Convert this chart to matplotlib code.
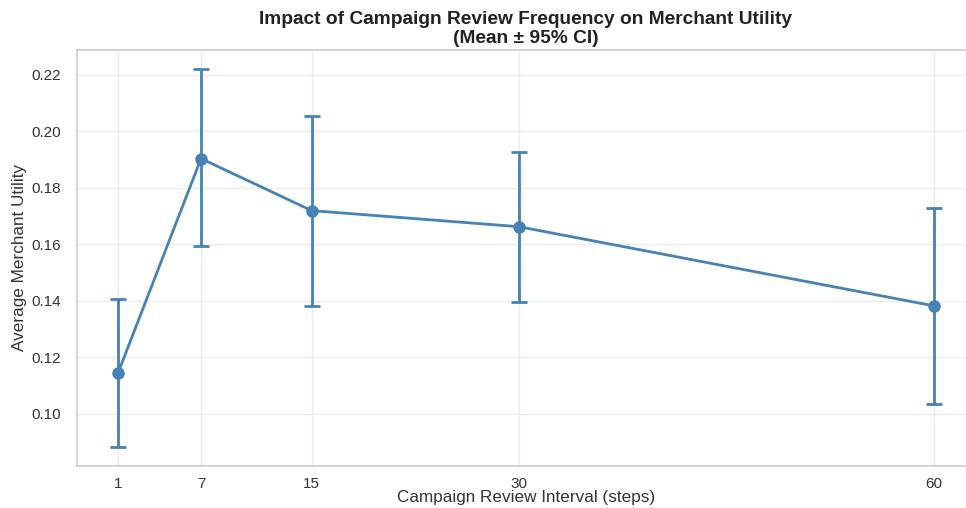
import matplotlib
matplotlib.use("Agg")
import matplotlib.pyplot as plt
import seaborn as sns

# Review interval (steps) and merchant utility summary
intervals = [1, 7, 15, 30, 60]
mean_utility = [0.1145, 0.1903, 0.1719, 0.1662, 0.1382]
ci_low = [0.0883, 0.1595, 0.1382, 0.1396, 0.1035]
ci_high = [0.1407, 0.2221, 0.2055, 0.1927, 0.1729]

sns.set_theme(style="whitegrid")
plt.rcParams["font.family"] = ["Liberation Sans", "DejaVu Sans"]

err_low = [m - lo for m, lo in zip(mean_utility, ci_low)]
err_high = [hi - m for m, hi in zip(mean_utility, ci_high)]

fig, ax = plt.subplots(figsize=(9.66, 5.08), dpi=100)
# axes run slightly past the right edge of the canvas
fig.subplots_adjust(left=0.080, right=1.009, top=0.902, bottom=0.083)

ax.errorbar(intervals, mean_utility, yerr=[err_low, err_high],
            color="#4682B4", linewidth=2, marker="o", markersize=8,
            elinewidth=2, capsize=6, capthick=2)

ax.set_xticks(intervals)
ax.set_xticklabels([str(v) for v in intervals])
ax.set_yticks([0.10, 0.12, 0.14, 0.16, 0.18, 0.20, 0.22])
ax.tick_params(axis="y", labelsize=11, colors="#333333", pad=6)
ax.tick_params(axis="x", labelsize=11, colors="#333333", pad=2)

ax.grid(True, color="#ebebeb", linewidth=1)
for spine in ax.spines.values():
    spine.set_color("#cccccc")
    spine.set_linewidth(1.2)

ax.set_xlabel("Campaign Review Interval (steps)", fontsize=12.3, color="#333333", labelpad=-1)
ax.set_ylabel("Average Merchant Utility", fontsize=12.3, color="#333333", labelpad=3)
ax.set_title("Impact of Campaign Review Frequency on Merchant Utility\n(Mean ± 95% CI)",
             fontsize=13.8, fontweight="bold", color="#222222", pad=5, linespacing=1.15)

fig.savefig("out.png", dpi=100)
